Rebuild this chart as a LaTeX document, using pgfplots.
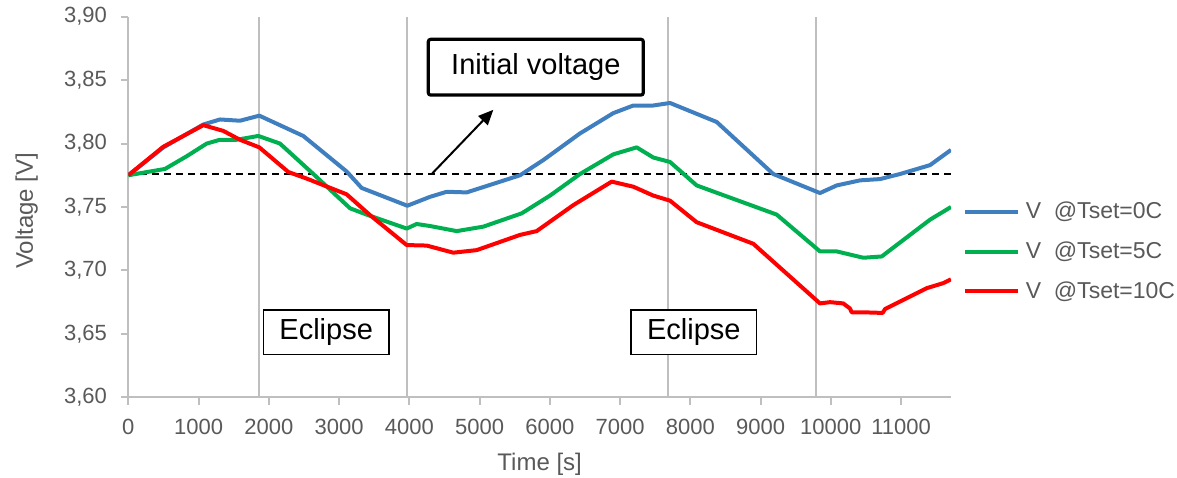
\documentclass[border=0pt]{standalone}
\usepackage{fontspec}
\setmainfont{Liberation Sans}
\usepackage{pgfplots}
\pgfplotsset{compat=1.18}
\usetikzlibrary{arrows.meta}
\definecolor{vzero}{HTML}{3F7FBF}
\definecolor{vfive}{HTML}{00B050}
\definecolor{vten}{HTML}{FF0000}
\definecolor{axgray}{HTML}{BFBFBF}
\definecolor{txtgray}{HTML}{595959}

\begin{document}
\begin{tikzpicture}
  % one px of the reference = 0.5bp
  \useasboundingbox (-64.15bp,-40.35bp) rectangle (524.35bp,198.65bp);
  \begin{axis}[
    at={(0,0)}, anchor=south west,
    scale only axis, width=411.35bp, height=190.3bp,
    xmin=0, xmax=11711, ymin=3.60, ymax=3.90,
    xtick={0,1000,...,11000},
    ytick={3.60,3.65,...,3.91},
    scaled x ticks=false,
    axis line style={axgray,line width=1bp},
    axis x line*=bottom, axis y line*=left,
    tick align=outside, major tick length=3.65bp,
    tick style={axgray,line width=1bp},
    font=\fontsize{11bp}{13bp}\selectfont,
    tick label style={txtgray},
    /pgf/number format/assume math mode=true,
    x tick label style={/pgf/number format/1000 sep={},yshift=-3.5bp},
    y tick label style={/pgf/number format/.cd,use comma,fixed,fixed zerofill,precision=2,/tikz/xshift=-3.5bp},
    xlabel={Time [s]}, ylabel={Voltage [V]},
    label style={txtgray,font=\fontsize{12bp}{14bp}\selectfont},
    xlabel style={at={(axis description cs:0.5,-0.175)},anchor=center},
    ylabel style={at={(axis description cs:-0.1235,0.49)},anchor=center},
    legend style={at={(axis description cs:1.0142,0.3826)},anchor=west,
      draw=none,fill=none,inner sep=0pt,row sep=10bp,column sep=2.85bp,
      font=\fontsize{11.5bp}{13.5bp}\selectfont,text=txtgray,
      nodes={inner sep=0pt}},
    legend cell align=left,
    legend image code/.code={\draw[#1] (0bp,0bp) -- (26.5bp,0bp);},
  ]
    % eclipse boundaries
    \addplot[axgray,line width=1.1bp,forget plot] coordinates {(1865,3.60) (1865,3.90)};
    \addplot[axgray,line width=1.1bp,forget plot] coordinates {(3972,3.60) (3972,3.90)};
    \addplot[axgray,line width=1.1bp,forget plot] coordinates {(7683,3.60) (7683,3.90)};
    \addplot[axgray,line width=1.1bp,forget plot] coordinates {(9785,3.60) (9785,3.90)};
    % initial voltage
    \addplot[black,line width=0.75bp,dash pattern=on 3.4bp off 2.6bp,forget plot]
      coordinates {(0,3.776) (11711,3.776)};

    \addplot[vzero,line width=2bp,line join=round] coordinates {
      (0,3.775) (500,3.797) (1066,3.815) (1305,3.819) (1590,3.818) (1865,3.822)
      (2491,3.806) (3108,3.778) (3322,3.765) (3972,3.751) (4295,3.758)
      (4532,3.762) (4817,3.7615) (5576,3.775) (5908,3.787) (6430,3.808)
      (6904,3.824) (7189,3.830) (7473,3.830) (7711,3.832) (8376,3.817)
      (9181,3.776) (9846,3.761) (10084,3.767) (10416,3.771) (10700,3.772)
      (10985,3.776) (11412,3.783) (11711,3.795)};
    \addplot[vfive,line width=2bp,line join=round] coordinates {
      (0,3.775) (522,3.780) (831,3.790) (1116,3.800) (1305,3.803) (1542,3.803)
      (1851,3.806) (2159,3.800) (2634,3.776) (3156,3.749) (3393,3.744)
      (3963,3.733) (4105,3.7366) (4295,3.735) (4675,3.731) (5053,3.7345)
      (5600,3.745) (6003,3.759) (6430,3.776) (6904,3.7915) (7237,3.797)
      (7473,3.789) (7711,3.7855) (8091,3.767) (9230,3.744) (9846,3.715)
      (10084,3.715) (10463,3.710) (10724,3.711) (11412,3.740) (11711,3.750)};
    \addplot[vten,line width=2bp,line join=round] coordinates {
      (0,3.775) (498,3.7975) (1068,3.8145) (1352,3.810) (1590,3.803)
      (1865,3.797) (2278,3.7776) (2539,3.7724) (3108,3.760) (3441,3.7436)
      (3963,3.720) (4248,3.7196) (4626,3.714) (4959,3.716) (5576,3.728)
      (5813,3.731) (6335,3.7515) (6881,3.770) (7189,3.766) (7473,3.759)
      (7711,3.755) (8091,3.738) (8897,3.721) (9846,3.674) (9989,3.675)
      (10178,3.674) (10273,3.670) (10297,3.667) (10463,3.667) (10739,3.6665)
      (10772,3.6696) (11365,3.686) (11601,3.690) (11711,3.693)};
    \legend{V\ \ @Tset=0C,V\ \ @Tset=5C,V\ \ @Tset=10C}

    \draw[black,line width=1bp,-{Triangle[length=7.5bp,width=6.5bp]}]
      (axis cs:4319,3.776) -- (axis cs:5196,3.8266);
    \node[draw=black,line width=1.6bp,rounded corners=1.2bp,fill=white,
          minimum width=107.5bp,minimum height=27.9bp,inner sep=0pt,
          font=\fontsize{14.5bp}{16bp}\selectfont]
      at (axis cs:5801,3.8602) {Initial voltage};
    \node[draw=black,line width=0.8bp,fill=white,
          minimum width=62.8bp,minimum height=22.2bp,inner sep=0pt,
          font=\fontsize{14.5bp}{16bp}\selectfont]
      at (axis cs:2817,3.6513) {Eclipse};
    \node[draw=black,line width=0.8bp,fill=white,
          minimum width=62.8bp,minimum height=22.2bp,inner sep=0pt,
          font=\fontsize{14.5bp}{16bp}\selectfont]
      at (axis cs:8051,3.6513) {Eclipse};
  \end{axis}
\end{tikzpicture}
\end{document}
